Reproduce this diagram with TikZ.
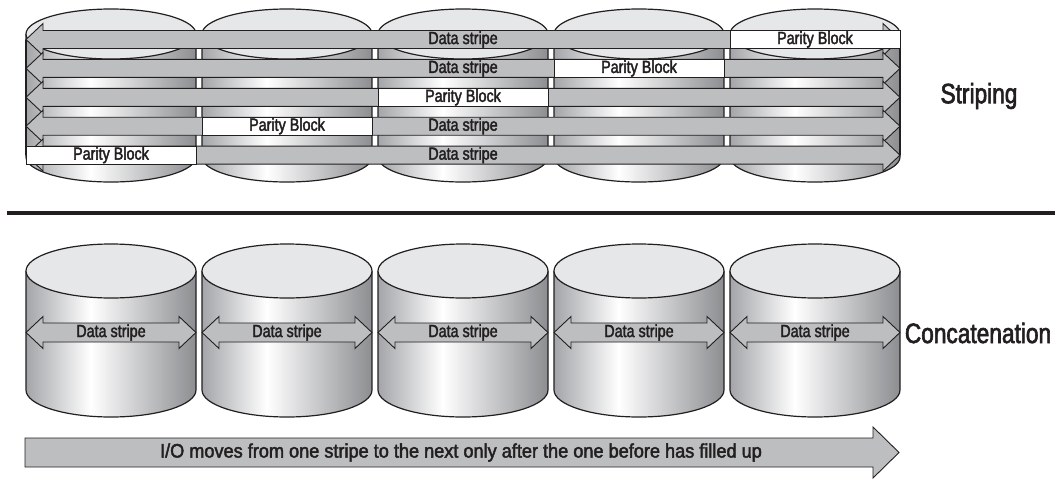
\documentclass[tikz,border=0pt]{standalone}
\usepackage{fontspec}
\setmainfont{Liberation Sans}
\newfontfamily\cndfont[FakeStretch=0.82,FakeBold=2.2]{Liberation Sans}
\newfontfamily\lblfont[FakeStretch=0.81,FakeBold=2.2]{Liberation Sans}
\newfontfamily\iofont[FakeStretch=0.93,FakeBold=2.2]{Liberation Sans}
\definecolor{barfill}{HTML}{BCBEC0}
\definecolor{captop}{HTML}{E6E7E8}
\definecolor{sideL}{HTML}{A3A5A8}
\definecolor{sideR}{HTML}{8C8E91}
\definecolor{ink}{HTML}{231F20}
\pgfdeclarehorizontalshading{cylside}{100bp}{color(0bp)=(sideL); color(25bp)=(sideL); color(44bp)=(white); color(75bp)=(sideR); color(100bp)=(sideR)}
\newcommand\drumcyl[4]{%
  \path[shading=cylside] (#1,#2) -- (#1,#3) arc[start angle=180,end angle=0,x radius=85,y radius=#4] -- (#1+170,#2) -- cycle;
  \draw[ink, line width=1.2pt] (#1,#2) -- (#1,#3) arc[start angle=180,end angle=0,x radius=85,y radius=#4] -- (#1+170,#2);
  \draw[ink, line width=1.2pt, fill=captop] (#1+85,#2) ellipse[x radius=85, y radius=#4];
}
\tikzset{
  stxt/.style={text=ink, font=\cndfont\fontsize{17.5}{19}\selectfont, inner sep=0pt},
  bigtxt/.style={text=ink, font=\lblfont\fontsize{28}{31}\selectfont, inner sep=0pt},
  iotxt/.style={text=ink, font=\iofont\fontsize{19.5}{21}\selectfont, inner sep=0pt},
  barline/.style={draw=ink, line width=0.9pt, fill=barfill, line join=miter},
  parity/.style={draw=ink, line width=0.9pt, fill=white}
}
\begin{document}
\begin{tikzpicture}[x=1pt,y=-1pt]
\useasboundingbox (0,0) rectangle (1055,482);
% ---------- striping ----------
\foreach \xo in {26,202,378,554,730} {\drumcyl{\xo}{34}{157}{25}}
\foreach \c in {39.5,68.4,97.3,126.2,155.1} {
  \path[barline] (26,\c) -- (43,\c-16) -- (43,\c-9) -- (883,\c-9) -- (883,\c-16) -- (900,\c)
     -- (883,\c+16) -- (883,\c+9) -- (43,\c+9) -- (43,\c+16) -- cycle;
}
\draw[ink, line width=1.2pt] (26,40) -- (26,155);
\draw[ink, line width=1.2pt] (900,40) -- (900,155);
% parity blocks
\path[parity] (730,30.5) rectangle (900,48.5);
\path[parity] (554,59.4) rectangle (724,77.4);
\path[parity] (378,88.3) rectangle (548,106.3);
\path[parity] (202,117.2) rectangle (372,135.2);
\path[parity] (26,146.1) rectangle (196,164.1);
\node[stxt] (pb1) at (815,39.5) {Parity Block};
\node[stxt] (pb2) at (639,68.4) {Parity Block};
\node[stxt] (pb3) at (463,97.3) {Parity Block};
\node[stxt] (pb4) at (287,126.2) {Parity Block};
\node[stxt] (pb5) at (111,155.1) {Parity Block};
\node[stxt] (ds1) at (463,39.5) {Data stripe};
\node[stxt] (ds2) at (463,68.4) {Data stripe};
\node[stxt] (ds4) at (463,126.2) {Data stripe};
\node[stxt] (ds5) at (463,155.1) {Data stripe};
\node[bigtxt] (striping) at (979,96) {Striping};
% ---------- divider ----------
\draw[ink, line width=4pt] (7,213) -- (1055,213);
% ---------- concatenation ----------
\foreach \xo [count=\i] in {26,202,378,554,730} {
  \drumcyl{\xo}{271}{390}{27}
  \path[barline] (\xo,332.5) -- (\xo+17,316.5) -- (\xo+17,323) -- (\xo+153,323) -- (\xo+153,316.5)
     -- (\xo+170,332.5) -- (\xo+153,348.5) -- (\xo+153,342) -- (\xo+17,342) -- (\xo+17,348.5) -- cycle;
  \node[stxt] (cd\i) at (\xo+85,332.5) {Data stripe};
}
\node[bigtxt] (concat) at (978,333) {Concatenation};
% ---------- I/O arrow ----------
\path[barline] (25,438) -- (873,438) -- (873,427) -- (899,452.5) -- (873,478) -- (873,467) -- (25,467) -- cycle;
\node[iotxt] (io) at (461,452.5) {I/O moves from one stripe to the next only after the one before has filled up};
\end{tikzpicture}
\end{document}
